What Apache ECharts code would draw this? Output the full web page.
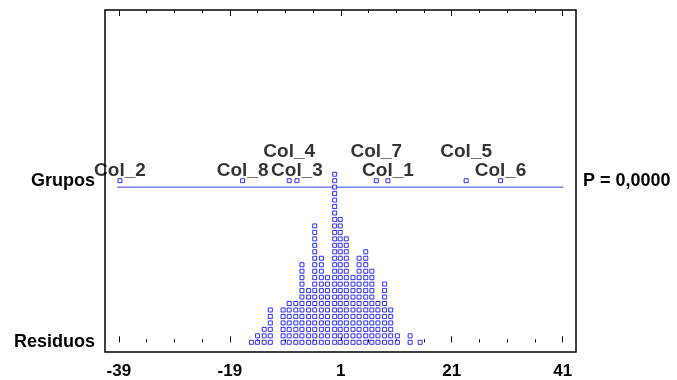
<!DOCTYPE html>
<html><head><meta charset="utf-8">
<script src="https://cdn.jsdelivr.net/npm/echarts@6/dist/echarts.min.js"></script>
<style>html,body{margin:0;padding:0;background:#fff}#c{width:677px;height:380px}</style>
</head><body><div id="c"></div><script>
// ---- data ----
const groupNames = ['Col_2','Col_8','Col_4','Col_3','Col_7','Col_1','Col_5','Col_6'];
const groupMeans = [-38.8,-16.7,-8.3,-6.9,7.4,9.5,23.6,29.8];
// residual dot columns: value and number of stacked dots
const residualValues = [-15.1,-14.0,-12.8,-11.7,-9.4,-8.3,-7.1,-6.0,-4.8,-3.7,-2.5,-1.4,-0.1,0.9,2.0,3.2,4.3,5.5,6.6,7.7,8.9,10.0,11.2,13.5,15.3];
const residualCounts = [1,2,3,6,6,7,7,13,9,19,14,11,27,20,17,11,14,15,12,7,10,6,2,2,1];
const xTickLabels = [-39,-19,1,21,41];
const xMinorTicks = [-34,-29,-24,-14,-9,-4,6,11,16,26,31,36];
const yLabelNames = ['Residuos','Grupos'];
const pValueText = 'P = 0,0000';

// ---- layout / style constants ----
const ROW_GROUPS = 25, ROW_LINE = 24;
const labelHigh = {Col_4:true, Col_7:true, Col_5:true};
const BLUE = '#0000ff';
const FONT = 'Liberation Sans, Arial, sans-serif';

const resPts = [];
residualValues.forEach((v,i)=>{ for(let k=0;k<residualCounts[i];k++) resPts.push([v,k]); });
const grpPts = groupNames.map((n,i)=>({value:[groupMeans[i],ROW_GROUPS], name:n,
  label:{offset:[0, labelHigh[n] ? -29 : -10]}}));

const tickAxis = (pos, vals, len) => ({
  type:'value', position:pos, min:-41.5, max:43.4, gridIndex:0,
  axisLine:{show:false}, splitLine:{show:false},
  axisTick:{show:true, inside:true, length:len, customValues:vals, lineStyle:{color:'#000',width:1}},
  axisLabel:{show:false}
});

const chart = echarts.init(document.getElementById('c'), null, {renderer:'canvas'});
chart.setOption({
  animation:false,
  grid:{left:105, right:101, top:10, bottom:24, show:true, borderColor:'#000', borderWidth:1.5, containLabel:false},
  xAxis:[
    {type:'value', position:'bottom', min:-41.5, max:43.4,
     axisLine:{show:false}, splitLine:{show:false},
     axisTick:{show:true, inside:true, length:6, customValues:xTickLabels, lineStyle:{color:'#000'}},
     axisLabel:{show:true, customValues:xTickLabels, margin:11, color:'#000', fontSize:17, fontWeight:'bold', fontFamily:FONT}},
    tickAxis('bottom', xMinorTicks, 3),
    tickAxis('top', xTickLabels, 6),
    tickAxis('top', xMinorTicks, 3)
  ],
  yAxis:[
    {type:'value', min:-1.5, max:51.4, position:'left',
     axisLine:{show:false}, axisTick:{show:false}, splitLine:{show:false},
     axisLabel:{show:true, customValues:[0, ROW_GROUPS], margin:10, color:'#000', fontSize:18, fontWeight:'bold', fontFamily:FONT,
       formatter:(v)=> v===0 ? yLabelNames[0] : yLabelNames[1]}},
    {type:'value', min:-1.5, max:51.4, position:'right',
     axisLine:{show:false}, axisTick:{show:false}, splitLine:{show:false},
     axisLabel:{show:true, customValues:[ROW_GROUPS], margin:7, color:'#000', fontSize:18, fontWeight:'bold', fontFamily:FONT,
       formatter:()=>pValueText}}
  ],
  series:[
    {type:'line', data:[[-39.3,ROW_LINE],[41.1,ROW_LINE]], symbol:'none', lineStyle:{color:'#3d3dff', width:1}, silent:true, z:2},
    {type:'scatter', data:resPts, symbol:'rect', symbolSize:4,
     itemStyle:{color:'#fff', borderColor:BLUE, borderWidth:1}, z:3},
    {type:'scatter', data:grpPts, symbol:'rect', symbolSize:4,
     itemStyle:{color:'#fff', borderColor:BLUE, borderWidth:1}, z:4,
     label:{show:true, position:'inside', formatter:(p)=>p.name, color:'#000', fontSize:19, fontWeight:'bold', fontFamily:FONT}}
  ]
});
</script></body></html>
